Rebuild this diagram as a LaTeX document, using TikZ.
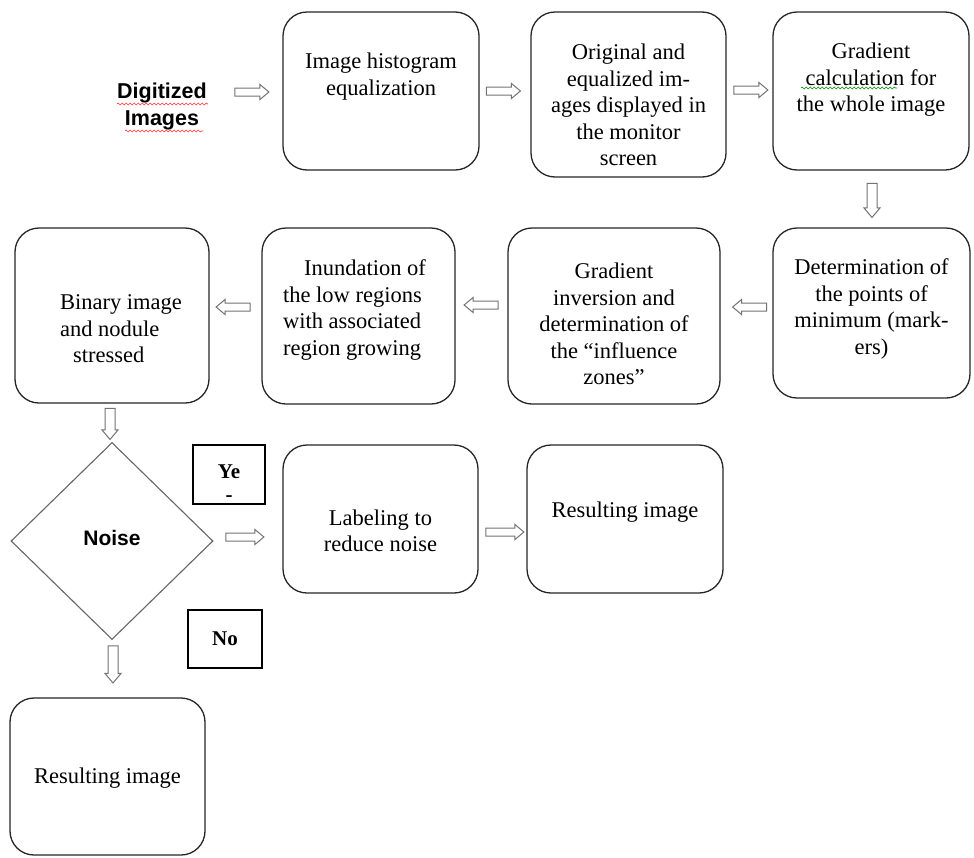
\documentclass[tikz,border=0pt]{standalone}
\usepackage{fontspec}
\setmainfont{Liberation Serif}
\setsansfont{Liberation Sans}
\usetikzlibrary{shapes.geometric,shapes.arrows,decorations.pathmorphing}
\begin{document}
\begin{tikzpicture}[x=1pt,y=-1pt,
  box/.style={draw=black!85, line width=1.3pt, rounded corners=24pt, inner sep=0pt},
  txt/.style={font=\fontsize{22.5}{26.5}\selectfont, align=center, inner sep=0pt},
  lbox/.style={draw=black, line width=1.2pt, inner sep=0pt, font=\fontsize{21}{24}\selectfont\bfseries},
  barrow/.style={single arrow, draw=black!55, line width=1pt, fill=white,
    minimum height=34pt, inner xsep=0pt, inner ysep=3.5pt,
    single arrow head extend=3.5pt, single arrow tip angle=80},
  darrow/.style={barrow, shape border rotate=270, inner xsep=4.5pt, inner ysep=0pt,
    single arrow head extend=3pt},
  squig/.style={decorate, decoration={snake, segment length=4pt, amplitude=1pt}, line width=0.6pt}
]
\useasboundingbox (0,0) rectangle (974,857);
\fill[white] (0,0) rectangle (974,857);

% boxes
\node[box, minimum width=196pt, minimum height=158pt] (b1) at (381,91) {};
\node[box, minimum width=195pt, minimum height=165pt] (b2) at (628.5,94.5) {};
\node[box, minimum width=196pt, minimum height=158pt] (b3) at (871,91) {};
\node[box, minimum width=197pt, minimum height=170pt] (b4) at (871.5,313) {};
\node[box, minimum width=212pt, minimum height=176pt] (b5) at (614,316) {};
\node[box, minimum width=193pt, minimum height=176pt] (b6) at (358.5,316) {};
\node[box, minimum width=194pt, minimum height=175pt] (b7) at (112,315.5) {};
\node[diamond, draw=black!60, line width=1.1pt, minimum width=202pt, minimum height=197pt, inner sep=0pt] (dm) at (112,541) {};
\node[box, minimum width=195pt, minimum height=148pt] (b8) at (380.5,519) {};
\node[box, minimum width=196pt, minimum height=148pt] (b9) at (625,519) {};
\node[box, minimum width=195pt, minimum height=157pt] (b10) at (107.5,776.5) {};
\node[lbox, minimum width=72pt, minimum height=59pt] (yes) at (229,474.5) {};
\node[lbox, minimum width=74pt, minimum height=58pt] (no) at (225,639) {No};

% texts
\node[font=\sffamily\bfseries\fontsize{21.5}{27}\selectfont, align=center, inner sep=0pt] (dig) at (162,106.5) {Digitized\\Images};
\node[txt] (t1) at (381,76.5) {Image histogram\\equalization};
\node[txt] (t2) at (628.5,105) {Original and\\equalized im-\\ages displayed in\\the monitor\\screen};
\node[txt] (t3) at (871,80) {Gradient\\calculation for\\the whole image};
\node[txt] (t4) at (871.5,309) {Determination of\\the points of\\minimum (mark-\\ers)};
\node[txt] (t5) at (614,324) {Gradient\\inversion and\\determination of\\the “influence\\zones”};
\node[txt, align=left] (t6) at (354.5,310) {\hspace*{21pt}Inundation of\\the low regions\\with associated\\region growing};
\node[txt, align=left] (t7) at (121,329) {Binary image\\and nodule\\\hspace*{13pt}stressed};
\node[font=\sffamily\bfseries\fontsize{21}{24}\selectfont, inner sep=0pt] (tn) at (112,538) {Noise};
\node[txt] (t8) at (380.5,531) {Labeling to\\reduce noise};
\node[txt] (t9) at (625,512) {Resulting image};
\node[txt] (t10) at (107.5,778) {Resulting image};
\node[font=\bfseries\fontsize{21}{23}\selectfont, align=center, inner sep=0pt] (ty) at (229,483) {Ye\\-};

% spell-check squiggles
\draw[squig, red!80] (117,104) -- (208,104);
\draw[squig, red!80] (125,131) -- (203,131);
\draw[squig, green!55!black] (801,88) -- (897,88);

% hollow arrows
\node[barrow] (a1) at (249.5,92) {};
\node[barrow] (a2) at (501,91) {};
\node[barrow] (a3) at (748.5,90) {};
\node[darrow] (a4) at (872,197.5) {};
\node[barrow, shape border rotate=180] (a5) at (752,307) {};
\node[barrow, shape border rotate=180] (a6) at (483.5,305) {};
\node[barrow, shape border rotate=180] (a7) at (235.5,307) {};
\node[darrow, minimum height=31pt] (a8) at (110,421) {};
\node[barrow, minimum height=38pt] (a9) at (242.5,537) {};
\node[barrow, minimum height=38pt] (a10) at (502.5,532) {};
\node[darrow, minimum height=37pt] (a11) at (113,661.5) {};
\end{tikzpicture}
\end{document}
